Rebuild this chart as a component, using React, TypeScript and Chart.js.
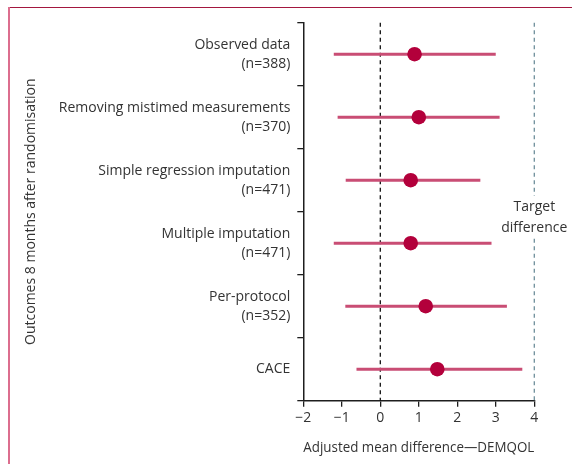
import React, { useEffect, useRef } from "react";
import { Chart, registerables } from "chart.js";

Chart.register(...registerables);

const categories: (string | string[])[] = [
  ["Observed data", "(n=388)"],
  ["Removing mistimed measurements", "(n=370)"],
  ["Simple regression imputation", "(n=471)"],
  ["Multiple imputation", "(n=471)"],
  ["Per-protocol", "(n=352)"],
  "CACE",
];
const estimates = [0.89, 1.0, 0.79, 0.79, 1.18, 1.48];
const lowerCI = [-1.2, -1.1, -0.89, -1.2, -0.9, -0.61];
const upperCI = [2.99, 3.09, 2.59, 2.88, 3.28, 3.68];
const xMin = -2;
const xMax = 4;
const nullValue = 0;
const targetValue = 4;
const targetLabel = ["Target", "difference"];
const xTitle = "Adjusted mean difference\u2014DEMQOL";
const yTitle = "Outcomes 8 months after randomisation";

const FONT = '"Open Sans", sans-serif';
const TEXT = "#333333";
const AXIS = "#1e1e1e";

const refLines = {
  id: "refLines",
  beforeDatasetsDraw(chart: any) {
    const { ctx, chartArea, scales } = chart;
    const xs = scales.x;
    const ys = scales.y;
    const top = chartArea.top;
    const bottom = chartArea.bottom;
    ctx.save();
    const x0 = xs.getPixelForValue(nullValue);
    ctx.strokeStyle = "#111111";
    ctx.lineWidth = 1.3;
    ctx.setLineDash([4, 3.5]);
    ctx.beginPath();
    ctx.moveTo(x0, top);
    ctx.lineTo(x0, bottom);
    ctx.stroke();
    const xt = xs.getPixelForValue(targetValue);
    const boundary = ys.getPixelForValue(2.5);
    const gapTop = boundary - 16;
    const gapBottom = boundary + 27;
    ctx.strokeStyle = "#6f8f9b";
    ctx.beginPath();
    ctx.moveTo(xt, top);
    ctx.lineTo(xt, gapTop);
    ctx.moveTo(xt, gapBottom);
    ctx.lineTo(xt, bottom);
    ctx.stroke();
    ctx.setLineDash([]);
    ctx.fillStyle = TEXT;
    ctx.font = `14px ${FONT}`;
    ctx.textAlign = "center";
    ctx.textBaseline = "middle";
    ctx.fillText(targetLabel[0], xt, boundary - 5);
    ctx.fillText(targetLabel[1], xt, boundary + 16);
    ctx.restore();
  },
};

export default function App() {
  const ref = useRef<HTMLCanvasElement | null>(null);
  useEffect(() => {
    if (!ref.current) return;
    const chart = new Chart(ref.current, {
      type: "bar",
      data: {
        labels: categories as any,
        datasets: [
          {
            type: "line",
            indexAxis: "y",
            data: estimates,
            showLine: false,
            pointRadius: 7.3,
            pointHoverRadius: 7.3,
            pointBackgroundColor: "#b3003b",
            pointBorderWidth: 0,
            borderWidth: 0,
            order: 0,
          } as any,
          {
            type: "bar",
            indexAxis: "y",
            data: lowerCI.map((l, i) => [l, upperCI[i]]),
            backgroundColor: "#c94d74",
            borderWidth: 0,
            barThickness: 2.2,
            order: 1,
          } as any,
        ],
      },
      options: {
        indexAxis: "y",
        animation: false,
        responsive: false,
        events: [],
        layout: { padding: { top: 22.7, right: 37.7, left: 0, bottom: 0 } },
        plugins: { legend: { display: false }, tooltip: { enabled: false } },
        scales: {
          x: {
            type: "linear",
            min: xMin,
            max: xMax,
            ticks: {
              stepSize: 1,
              padding: 3,
              color: TEXT,
              font: { family: FONT, size: 14 },
              callback: (v: any) => (Number(v) < 0 ? "\u2212" + Math.abs(Number(v)) : String(v)),
            },
            grid: { drawOnChartArea: false, drawTicks: true, tickLength: 6, color: AXIS, lineWidth: 1.3 },
            border: { display: true, color: AXIS, width: 1.5 },
            title: {
              display: true,
              text: xTitle,
              color: TEXT,
              font: { family: FONT, size: 14.6 },
              padding: { top: 0, bottom: 7.6 },
            },
            afterFit: (s: any) => {
              s.height = 63.3;
            },
          },
          y: {
            type: "category",
            offset: true,
            ticks: {
              padding: 7,
              color: TEXT,
              font: { family: FONT, size: 14, lineHeight: 1.35 },
            },
            grid: { offset: true, drawOnChartArea: false, drawTicks: true, tickLength: 6, color: AXIS, lineWidth: 1.3 },
            border: { display: true, color: AXIS, width: 1.5 },
            title: {
              display: true,
              text: yTitle,
              color: TEXT,
              font: { family: FONT, size: 14 },
              padding: { top: 22.6, bottom: 0 },
            },
            afterFit: (s: any) => {
              s.width = 303.3;
            },
          },
        },
      },
      plugins: [refLines],
    });
    return () => chart.destroy();
  }, []);

  return (
    <div style={{ position: "fixed", left: 0, top: 0, width: 572, height: 464, background: "#ffffff" }}>
      <canvas ref={ref} width={572} height={464} style={{ position: "absolute", left: 0, top: 0, width: 572, height: 464 }} />
      <div style={{ position: "absolute", left: 8, top: 6.5, width: 564, height: 1.5, background: "#a3173f" }} />
      <div style={{ position: "absolute", left: 8, top: 7, width: 2, height: 457, background: "#dc6e8e" }} />
    </div>
  );
}
